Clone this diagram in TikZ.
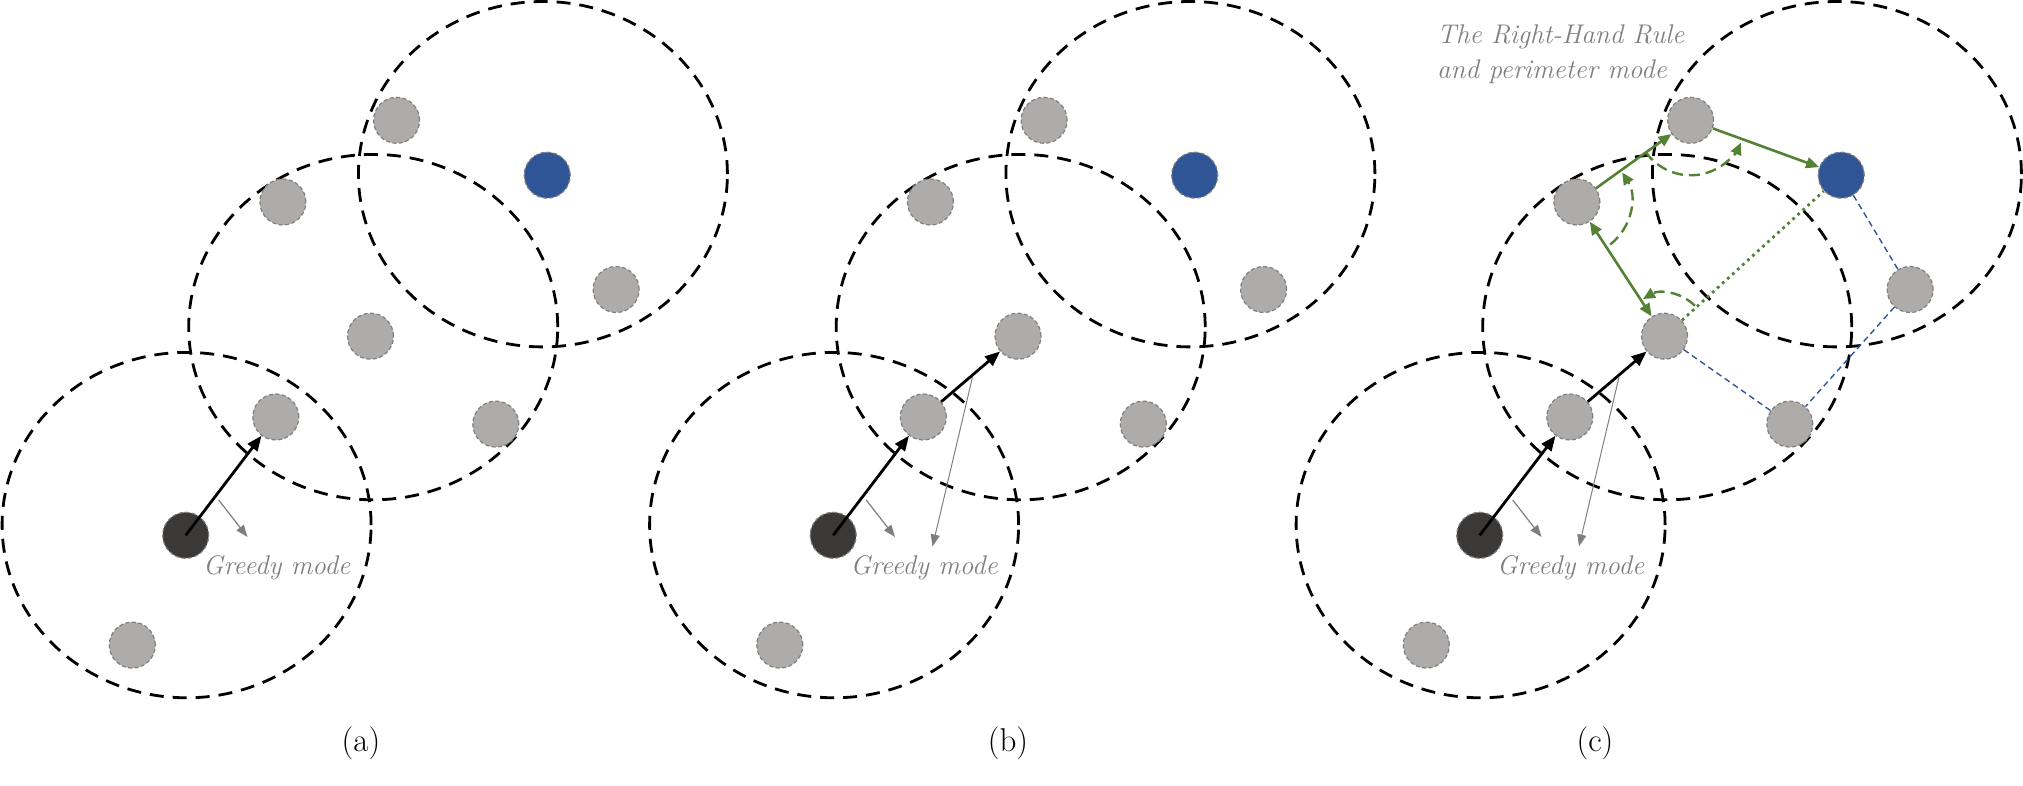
\documentclass[tikz,border=0pt]{standalone}
\usepackage{fontspec}
\usetikzlibrary{arrows.meta}
\definecolor{nodegray}{HTML}{AEABAB}
\definecolor{nodeborder}{HTML}{7F7F7F}
\definecolor{darknode}{HTML}{3B3838}
\definecolor{bluenode}{HTML}{2F5597}
\definecolor{grn}{HTML}{548235}
\definecolor{txtgray}{HTML}{7F7F7F}
\tikzset{
  radioring/.style={draw=black, line width=2.8pt, dash pattern=on 14pt off 9pt},
  sensornode/.style={circle, minimum size=46pt, inner sep=0pt, fill=nodegray, draw=nodeborder, line width=1.2pt, dash pattern=on 4pt off 2.5pt},
  srcnode/.style={sensornode, fill=darknode},
  dstnode/.style={sensornode, fill=bluenode},
  hoparrow/.style={draw=black, line width=2.8pt, -{Triangle[length=15pt,width=12pt]}},
  hintarrow/.style={draw=txtgray, line width=1.2pt, -{Triangle[length=12pt,width=9pt]}},
  hintlong/.style={draw=txtgray, line width=1pt, -{Triangle[length=12pt,width=9pt]}},
  modetext/.style={text=txtgray, font=\fontsize{27}{34}\selectfont\itshape, inner sep=0pt},
  captiontext/.style={font=\fontsize{33}{40}\selectfont, inner sep=0pt},
  perimline/.style={draw=grn, line width=2.6pt},
  perimtip/.style={-{Triangle[length=13pt,width=11pt]}},
  perimboth/.style={{Triangle[length=13pt,width=11pt]}-{Triangle[length=13pt,width=11pt]}},
  sweeparc/.style={draw=grn, line width=2.4pt, dash pattern=on 11pt off 6pt, -{Triangle[length=12pt,width=11pt]}},
  probeline/.style={draw=grn, line width=2.8pt, dash pattern=on 2.8pt off 4pt},
  facelink/.style={draw=bluenode, line width=1.4pt, dash pattern=on 6pt off 4pt},
}
\begin{document}
\begin{tikzpicture}[x=1pt,y=1pt]
\useasboundingbox (0,0) rectangle (2023,-786);
\foreach \p/\s in {a/0,b/647.5,c/1294}{
  \begin{scope}[xshift=\s pt]
    \draw[radioring] (186.6,-525.1) ellipse [x radius=184.5, y radius=172.7];
    \draw[radioring] (373.2,-327.1) ellipse [x radius=184.5, y radius=172.7];
    \draw[radioring] (542.9,-174.2) ellipse [x radius=184.5, y radius=172.7];
    \node[srcnode] (\p-d) at (185.7,-535.3) {};
    \node[sensornode] (\p-g1) at (396.6,-120.3) {};
    \node[dstnode] (\p-bl) at (547.2,-175.2) {};
    \node[sensornode] (\p-g2) at (282.9,-202) {};
    \node[sensornode] (\p-g3) at (616.1,-289.5) {};
    \node[sensornode] (\p-g4) at (370.5,-336.2) {};
    \node[sensornode] (\p-g5) at (275.8,-417) {};
    \node[sensornode] (\p-g6) at (495.8,-424.1) {};
    \node[sensornode] (\p-g7) at (132.3,-645.1) {};
    \node[modetext, anchor=base west] (\p-txt) at (203,-574) {Greedy mode};
    \coordinate (\p-h1) at (218.7,-500);
    \coordinate (\p-h2) at (247.5,-537);
    \draw[hintarrow] (\p-h1) -- (\p-h2);
    \draw[hoparrow] (\p-d.center) -- (\p-g5);
  \end{scope}
}
% second hop and long hint arrows in (b) and (c)
\foreach \p/\s in {b/647.5,c/1294}{
  \begin{scope}[xshift=\s pt]
    \draw[hoparrow] (\p-g5) -- (\p-g4);
    \coordinate (\p-k1) at (325,-377);
    \coordinate (\p-k2) at (285,-546.5);
    \draw[hintlong] (\p-k1) -- (\p-k2);
  \end{scope}
}
% perimeter mode in (c)
\draw[facelink] (c-bl) -- (c-g3);
\draw[facelink] (c-g3) -- (c-g6);
\draw[facelink] (c-g6) -- (c-g4);
\draw[probeline] (c-g4) -- (c-bl);
\draw[perimline, perimtip] (c-g2) -- (c-g1);
\draw[perimline, perimtip] (c-g1) -- (c-bl);
\draw[perimline, perimboth] (c-g2) -- (c-g4);
\draw[sweeparc] ([shift={(45:43)}]c-g4.center) arc[start angle=45, end angle=120, radius=43];
\draw[sweeparc] ([shift={(-52:54)}]c-g2.center) arc[start angle=-52, end angle=33, radius=54];
\draw[sweeparc] ([shift={(215:55)}]c-g1.center) arc[start angle=215, end angle=336, radius=55];
\node[modetext, anchor=base west] (rule1) at (1437,-44) {The Right-Hand Rule};
\node[modetext, anchor=base west] (rule2) at (1437,-78.7) {and perimeter mode};
% captions
\node[captiontext, anchor=base] (lab-a) at (361,-751) {(a)};
\node[captiontext, anchor=base] (lab-b) at (1008,-751) {(b)};
\node[captiontext, anchor=base] (lab-c) at (1595,-751) {(c)};
\end{tikzpicture}
\end{document}
